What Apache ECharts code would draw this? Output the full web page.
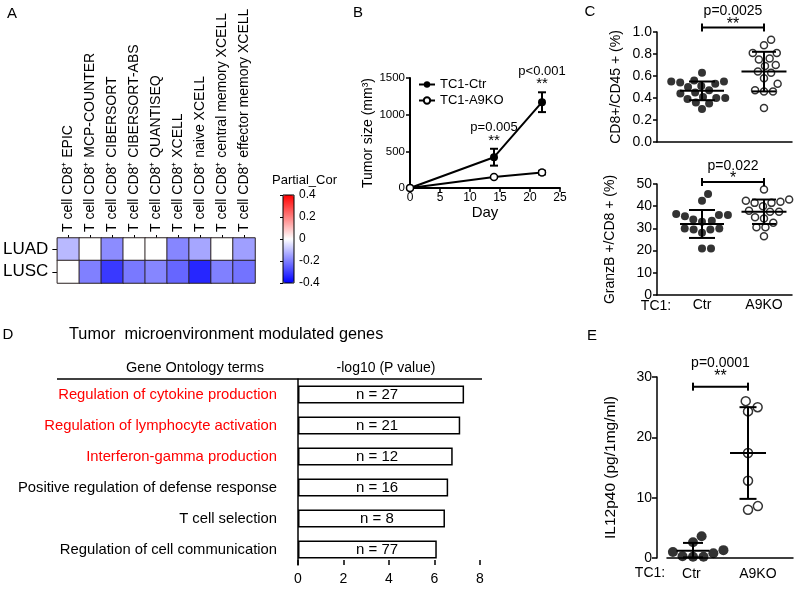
<!DOCTYPE html>
<html><head><meta charset="utf-8">
<script src="https://cdn.jsdelivr.net/npm/echarts@6/dist/echarts.min.js"></script>
<style>html,body{margin:0;padding:0;background:#fff}#c{width:800px;height:590px}</style>
</head><body><div id="c"></div>
<script>
const FONT = '"Liberation Sans", Arial, Helvetica, sans-serif';

// ---------- A : partial correlation heatmap ----------
const heatCols = ['EPIC','MCP-COUNTER','CIBERSORT','CIBERSORT-ABS','QUANTISEQ','XCELL','naive XCELL','central memory XCELL','effector memory XCELL'];
const heatRows = ['LUAD','LUSC'];
const luadCor = [-0.11, 0, -0.18, 0, 0, -0.19, -0.14, 0, -0.15];
const luscCor = [0, -0.20, -0.31, -0.21, -0.19, -0.24, -0.34, -0.20, -0.22];
const corRange = [-0.4, 0.4];

// ---------- B : tumor growth ----------
const days = [0, 14, 22];
const ctrSize = [0, 420, 1170];
const ctrSem = [0, 115, 135];
const koSize = [0, 150, 210];
const koSem = [0, 12, 25];
const bPText = ['', 'p=0.005', 'p<0.001'];
const bStars = ['', '**', '**'];

// ---------- C : CD8 / GranzB ----------
const groups = ['Ctr', 'A9KO'];
const cd8Ctr = [0.63, 0.56, 0.55, 0.55, 0.54, 0.53, 0.51, 0.50, 0.47, 0.45, 0.44, 0.41, 0.40, 0.40, 0.39, 0.36, 0.35, 0.30];
const cd8Ko  = [0.93, 0.88, 0.81, 0.81, 0.76, 0.75, 0.70, 0.69, 0.64, 0.63, 0.58, 0.53, 0.47, 0.46, 0.46, 0.31];
const cd8Mean = [0.465, 0.64];
const cd8Lo = [0.38, 0.46];
const cd8Hi = [0.55, 0.82];
const cd8P = ['p=0.0025', '**'];
const gzCtr = [45.5, 42.5, 36.5, 36, 35.5, 36, 34, 33.5, 33, 30, 30, 29.5, 29.5, 28, 21, 21];
const gzKo  = [47.5, 43, 42.5, 42, 41.5, 41.5, 40, 38, 37.5, 37.5, 35, 34.5, 32.5, 30.5, 30.5, 26.5];
const gzMean = [32, 37.5];
const gzLo = [25.7, 32];
const gzHi = [38.3, 43];
const gzP = ['p=0.022', '*'];

// ---------- D : GO terms ----------
const goTerms = ['Regulation of cytokine production','Regulation of lymphocyte activation','Interferon-gamma production','Positive regulation of defense response','T cell selection','Regulation of cell communication'];
const goLogP = [7.3, 7.13, 6.8, 6.6, 6.46, 6.1];
const goCounts = [27, 21, 12, 16, 8, 77];
const goHighlighted = [true, true, true, false, false, false];

// ---------- E : IL12p40 ----------
const ilCtr = [3.6, 2.6, 1.3, 1.0, 0.8, 0.3, 0.2, 0.2];
const ilKo = [26, 25, 24.3, 17.4, 12.8, 8.6, 8.0];
const ilMean = [1.2, 17.4];
const ilLo = [0.1, 9.8];
const ilHi = [2.5, 25];
const ilP = ['p=0.0001', '**'];

// ---------- helpers ----------
function swarm(vals, cx, sx, sy, d) {
  const placed = [];
  const res = new Array(vals.length);
  const order = vals.map((v, i) => i).sort((a, b) => vals[a] - vals[b]);
  for (const i of order) {
    const y = vals[i] * sy;
    const cands = [0];
    for (const p of placed) {
      const dy = Math.abs(p.y - y);
      if (dy < d) { const dx = Math.sqrt(d * d - dy * dy); cands.push(p.x + dx, p.x - dx); }
    }
    cands.sort((a, b) => Math.abs(a) - Math.abs(b));
    let xx = 0;
    for (const c of cands) {
      if (placed.every(p => (p.x - c) ** 2 + (p.y - y) ** 2 >= d * d - 0.01)) { xx = c; break; }
    }
    placed.push({ x: xx, y });
    res[i] = [cx + xx / sx, vals[i]];
  }
  return res;
}
const LS = { stroke: '#000', lineWidth: 2 };
function meanSdSeries(xi, yi, means, lo, hi, wm, wc) {
  return {
    type: 'custom', xAxisIndex: xi, yAxisIndex: yi, z: 3, silent: true,
    data: means.map((m, i) => [i + 1, m, lo[i], hi[i]]),
    encode: { x: 0, y: 1 },
    renderItem(params, api) {
      const x = api.value(0);
      const pm = api.coord([x, api.value(1)]), pl = api.coord([x, api.value(2)]), ph = api.coord([x, api.value(3)]);
      const w1 = wm[params.dataIndex] / 2, w2 = wc[params.dataIndex] / 2;
      return { type: 'group', children: [
        { type: 'line', shape: { x1: pm[0] - w1, y1: pm[1], x2: pm[0] + w1, y2: pm[1] }, style: LS },
        { type: 'line', shape: { x1: pl[0], y1: pl[1], x2: ph[0], y2: ph[1] }, style: LS },
        { type: 'line', shape: { x1: pl[0] - w2, y1: pl[1], x2: pl[0] + w2, y2: pl[1] }, style: LS },
        { type: 'line', shape: { x1: ph[0] - w2, y1: ph[1], x2: ph[0] + w2, y2: ph[1] }, style: LS }
      ]};
    }
  };
}
function txt(text, x, y, size, opts) {
  return Object.assign({ type: 'text', x, y, style: { text, font: size + 'px ' + FONT, fill: '#000',
    textAlign: 'center', textVerticalAlign: 'middle', align: 'center', verticalAlign: 'middle' } }, opts || {});
}
function bracketSeries(xi, yi, yb, texts, pDy, sDy, sSize) {
  return {
    type: 'custom', xAxisIndex: xi, yAxisIndex: yi, z: 3, silent: true, clip: false,
    data: [[1, 2, yb]],
    renderItem(params, api) {
      const p1 = api.coord([api.value(0), api.value(2)]), p2 = api.coord([api.value(1), api.value(2)]);
      const mx = (p1[0] + p2[0]) / 2;
      return { type: 'group', children: [
        { type: 'line', shape: { x1: p1[0], y1: p1[1], x2: p2[0], y2: p2[1] }, style: LS },
        { type: 'line', shape: { x1: p1[0], y1: p1[1] - 4, x2: p1[0], y2: p1[1] + 4 }, style: LS },
        { type: 'line', shape: { x1: p2[0], y1: p2[1] - 4, x2: p2[0], y2: p2[1] + 4 }, style: LS },
        txt(texts[0], mx, p1[1] + pDy, 14),
        txt(texts[1], mx, p1[1] + sDy, sSize)
      ]};
    }
  };
}
function errSeries(xs, ms, es, cap) {
  return {
    type: 'custom', xAxisIndex: 2, yAxisIndex: 2, z: 2, silent: true,
    data: xs.map((x, i) => [x, ms[i] - es[i], ms[i] + es[i]]).filter((d, i) => es[i] > 0),
    encode: { x: 0, y: 1 },
    renderItem(params, api) {
      const a = api.coord([api.value(0), api.value(1)]), b = api.coord([api.value(0), api.value(2)]);
      return { type: 'group', children: [
        { type: 'line', shape: { x1: a[0], y1: a[1], x2: b[0], y2: b[1] }, style: LS },
        { type: 'line', shape: { x1: a[0] - cap, y1: a[1], x2: a[0] + cap, y2: a[1] }, style: LS },
        { type: 'line', shape: { x1: b[0] - cap, y1: b[1], x2: b[0] + cap, y2: b[1] }, style: LS }
      ]};
    }
  };
}
const axLine = { lineStyle: { color: '#000', width: 1.5 } };
const axTick = (len, inside) => ({ show: true, length: len, inside: !!inside, lineStyle: { color: '#000', width: 1.5 } });
const noSplit = { show: false };
const filled = { color: '#000' };
const open = { color: '#fff', borderColor: '#000', borderWidth: 1.5 };
const plain = v => String(v);

// ---------- build ----------
const heatData = [];
heatRows.forEach((r, ri) => (ri === 0 ? luadCor : luscCor).forEach((v, ci) => heatData.push([ci, ri, v])));

const chart = echarts.init(document.getElementById('c'));
const option = {
  animation: false,
  backgroundColor: '#fff',
  textStyle: { fontFamily: FONT, color: '#000' },
  grid: [
    { left: 57, top: 238, width: 198, height: 45 },
    { left: 283, top: 195, width: 11, height: 88, show: true, borderColor: '#000', borderWidth: 1, backgroundColor: 'transparent', z: 10 },
    { left: 410, top: 78, width: 150, height: 110 },
    { left: 657, top: 32, width: 135, height: 110 },
    { left: 657, top: 184, width: 135, height: 111 },
    { left: 298, top: 379, width: 182, height: 186 },
    { left: 667, top: 377, width: 126, height: 181 }
  ],
  visualMap: {
    type: 'continuous', seriesIndex: 0, min: corRange[0], max: corRange[1],
    inRange: { color: ['#0000ff', '#ffffff', '#ff0000'] },
    left: 283, top: 195, itemWidth: 11, itemHeight: 88, padding: 0, text: null,
    calculable: false, hoverLink: false
  },
  legend: {
    data: ['TC1-Ctr', 'TC1-A9KO'], left: 418, top: 78, orient: 'vertical', itemGap: 3,
    itemWidth: 16, itemHeight: 8, padding: 0, textStyle: { fontSize: 13, color: '#000' }
  },
  xAxis: [
    { gridIndex: 0, type: 'category', data: heatCols.map(c => 'T cell CD8\u207A ' + c), position: 'top',
      axisLine: { show: false }, axisTick: Object.assign(axTick(3), { alignWithLabel: true, lineStyle: { color: '#000', width: 1 } }),
      axisLabel: { rotate: -90, interval: 0, fontSize: 14, margin: 6, color: '#000' }, splitLine: noSplit },
    { gridIndex: 1, type: 'value', show: false, min: 0, max: 1 },
    { gridIndex: 2, type: 'value', min: 0, max: 25, interval: 5, axisLine: { lineStyle: { color: '#000', width: 2 } }, axisTick: axTick(4),
      axisLabel: { fontSize: 12, margin: 4, color: '#000', formatter: plain }, splitLine: noSplit,
      name: 'Day', nameLocation: 'middle', nameGap: 11, nameTextStyle: { fontSize: 15, color: '#000' } },
    { gridIndex: 3, type: 'value', min: 0.274, max: 2.452, axisLine: axLine, axisTick: { show: false }, axisLabel: { show: false }, splitLine: noSplit },
    { gridIndex: 4, type: 'value', min: 0.274, max: 2.452, axisLine: axLine, axisTick: { show: false },
      axisLabel: { customValues: [1, 2], formatter: v => v < 1.5 ? groups[0] : groups[1], fontSize: 14, margin: 3, color: '#000' }, splitLine: noSplit },
    { gridIndex: 5, type: 'value', min: 0, max: 8, interval: 2, axisLine: axLine, axisTick: axTick(5, true),
      axisLabel: { fontSize: 14, margin: 7, color: '#000' }, splitLine: noSplit },
    { gridIndex: 6, type: 'value', min: 0.527, max: 2.818, offset: 7, axisLine: axLine, axisTick: { show: false },
      axisLabel: { customValues: [0.97, 2.18], formatter: v => v < 1.5 ? groups[0] : groups[1], fontSize: 14, margin: 2, color: '#000' }, splitLine: noSplit }
  ],
  yAxis: [
    { gridIndex: 0, type: 'category', data: heatRows, inverse: true, axisLine: { show: false },
      axisTick: Object.assign(axTick(5), { alignWithLabel: true, lineStyle: { color: '#000', width: 1 } }),
      axisLabel: { fontSize: 17, margin: 9, color: '#000' }, splitLine: noSplit },
    { gridIndex: 1, type: 'value', min: corRange[0], max: corRange[1], interval: 0.2, position: 'right',
      axisLine: { show: false }, axisTick: { show: true, inside: true, length: 3, lineStyle: { color: '#000', width: 1 } },
      axisLabel: { fontSize: 12, margin: 5, color: '#000', formatter: v => Math.abs(v) < 1e-9 ? '0' : (+v).toFixed(1) }, splitLine: noSplit },
    { gridIndex: 2, type: 'value', min: 0, max: 1500, interval: 500, axisLine: { show: true, lineStyle: { color: '#000', width: 2 } }, axisTick: axTick(4),
      axisLabel: { fontSize: 11.5, margin: 5, color: '#000', formatter: plain }, splitLine: noSplit,
      name: 'Tumor size (mm\u00B3)', nameLocation: 'middle', nameRotate: 90, nameGap: 22, nameTextStyle: { fontSize: 14, color: '#000' } },
    { gridIndex: 3, type: 'value', min: 0, max: 1, interval: 0.2, axisLine: { show: true, lineStyle: axLine.lineStyle }, axisTick: axTick(4),
      axisLabel: { fontSize: 14, margin: 5, color: '#000', formatter: v => (+v).toFixed(1) }, splitLine: noSplit,
      name: 'CD8+/CD45 + (%)', nameLocation: 'middle', nameRotate: 90, nameGap: 34, nameTextStyle: { fontSize: 14, color: '#000' } },
    { gridIndex: 4, type: 'value', min: 0, max: 50, interval: 10, axisLine: { show: true, lineStyle: axLine.lineStyle }, axisTick: axTick(4),
      axisLabel: { fontSize: 14, margin: 5, color: '#000' }, splitLine: noSplit,
      name: 'GranzB +/CD8 + (%)', nameLocation: 'middle', nameRotate: 90, nameGap: 40, nameTextStyle: { fontSize: 14, color: '#000' } },
    { gridIndex: 5, type: 'category', data: goTerms, inverse: true, axisLine: { show: true, lineStyle: axLine.lineStyle }, axisTick: { show: false },
      axisLabel: { fontSize: 14.8, margin: 21, color: (v, i) => goHighlighted[i] ? '#ff0000' : '#000' }, splitLine: noSplit },
    { gridIndex: 6, type: 'value', min: 0, max: 30, interval: 10, offset: 10, axisLine: { show: true, lineStyle: axLine.lineStyle }, axisTick: axTick(5),
      axisLabel: { fontSize: 14, margin: 5, color: '#000' }, splitLine: noSplit,
      name: 'IL12p40 (pg/1mg/ml)', nameLocation: 'middle', nameRotate: 90, nameGap: 38, nameTextStyle: { fontSize: 15.5, color: '#000' } }
  ],
  series: [
    { type: 'heatmap', xAxisIndex: 0, yAxisIndex: 0, data: heatData, silent: true,
      itemStyle: { borderColor: '#2a2020', borderWidth: 1 } },
    errSeries(days, ctrSize, ctrSem, 4),
    errSeries(days, koSize, koSem, 4),
    { name: 'TC1-Ctr', type: 'line', xAxisIndex: 2, yAxisIndex: 2, z: 4, data: days.map((d, i) => [d, ctrSize[i]]),
      symbol: 'circle', symbolSize: 8, lineStyle: { color: '#000', width: 2 }, itemStyle: filled },
    { name: 'TC1-A9KO', type: 'line', xAxisIndex: 2, yAxisIndex: 2, z: 4, data: days.map((d, i) => [d, koSize[i]]),
      symbol: 'circle', symbolSize: 7, lineStyle: { color: '#000', width: 2 }, itemStyle: open },
    { type: 'custom', xAxisIndex: 2, yAxisIndex: 2, z: 5, silent: true, clip: false,
      data: days.map((d, i) => [d, ctrSize[i] + ctrSem[i]]).filter((d, i) => bPText[i]),
      encode: { x: 0, y: 1 },
      renderItem(params, api) {
        const p = api.coord([api.value(0), api.value(1)]);
        const k = params.dataIndex + 1;
        return { type: 'group', children: [ txt(bPText[k], p[0], p[1] - 21, 13), txt(bStars[k], p[0], p[1] - 8, 15) ] };
      } },
    // C top
    { type: 'scatter', xAxisIndex: 3, yAxisIndex: 3, data: swarm(cd8Ctr, 1, 62, 110, 9), symbolSize: 8, itemStyle: filled, z: 2 },
    { type: 'scatter', xAxisIndex: 3, yAxisIndex: 3, data: swarm(cd8Ko, 2, 62, 110, 9), symbolSize: 7, itemStyle: open, z: 2 },
    meanSdSeries(3, 3, cd8Mean, cd8Lo, cd8Hi, [44, 45], [26, 24]),
    bracketSeries(3, 3, 1.041, cd8P, -16, -3, 16),
    // C bottom
    { type: 'scatter', xAxisIndex: 4, yAxisIndex: 4, data: swarm(gzCtr, 1, 62, 2.22, 9), symbolSize: 8, itemStyle: filled, z: 2 },
    { type: 'scatter', xAxisIndex: 4, yAxisIndex: 4, data: swarm(gzKo, 2, 62, 2.22, 9), symbolSize: 7, itemStyle: open, z: 2 },
    meanSdSeries(4, 4, gzMean, gzLo, gzHi, [44, 45], [26, 24]),
    bracketSeries(4, 4, 50.9, gzP, -16, -3, 16),
    // D
    { type: 'bar', xAxisIndex: 5, yAxisIndex: 5, data: goLogP, barWidth: 18, silent: true,
      itemStyle: { color: '#fff', borderColor: '#000', borderWidth: 1.5 },
      label: { show: true, position: [79, '50%'], align: 'center', verticalAlign: 'middle', fontSize: 15, color: '#000',
        formatter: p => 'n = ' + goCounts[p.dataIndex] } },
    // E
    { type: 'scatter', xAxisIndex: 6, yAxisIndex: 6, data: swarm(ilCtr, 1, 55, 6.03, 10.5), symbolSize: 10, itemStyle: filled, z: 2 },
    { type: 'scatter', xAxisIndex: 6, yAxisIndex: 6, data: swarm(ilKo, 2, 55, 6.03, 10.5), symbolSize: 9, itemStyle: open, z: 2 },
    meanSdSeries(6, 6, ilMean, ilLo, ilHi, [33, 36], [20, 17]),
    bracketSeries(6, 6, 28.4, ilP, -24, -10, 16)
  ],
  graphic: [
    txt('A', 12, 14, 15),
    txt('B', 358, 13, 15),
    txt('C', 590, 12, 15),
    txt('D', 8, 335, 15),
    txt('E', 592, 336, 15),
    { type: 'text', x: 272, y: 180, style: { text: 'Partial_Cor', font: '13px ' + FONT, fill: '#000', textAlign: 'left', textVerticalAlign: 'middle', align: 'left', verticalAlign: 'middle' } },
    { type: 'text', x: 69, y: 335, style: { text: 'Tumor  microenvironment modulated genes', font: '16.3px ' + FONT, fill: '#000', textAlign: 'left', textVerticalAlign: 'middle', align: 'left', verticalAlign: 'middle' } },
    txt('Gene Ontology terms', 195, 368, 14.5),
    txt('-log10 (P value)', 386, 368, 14),
    { type: 'line', shape: { x1: 57, y1: 379, x2: 482, y2: 379 }, style: { stroke: '#000', lineWidth: 1.5 } },
    txt('TC1:', 656, 306, 14),
    txt('TC1:', 650, 573, 14)
  ]
};
chart.setOption(option);
</script></body></html>
